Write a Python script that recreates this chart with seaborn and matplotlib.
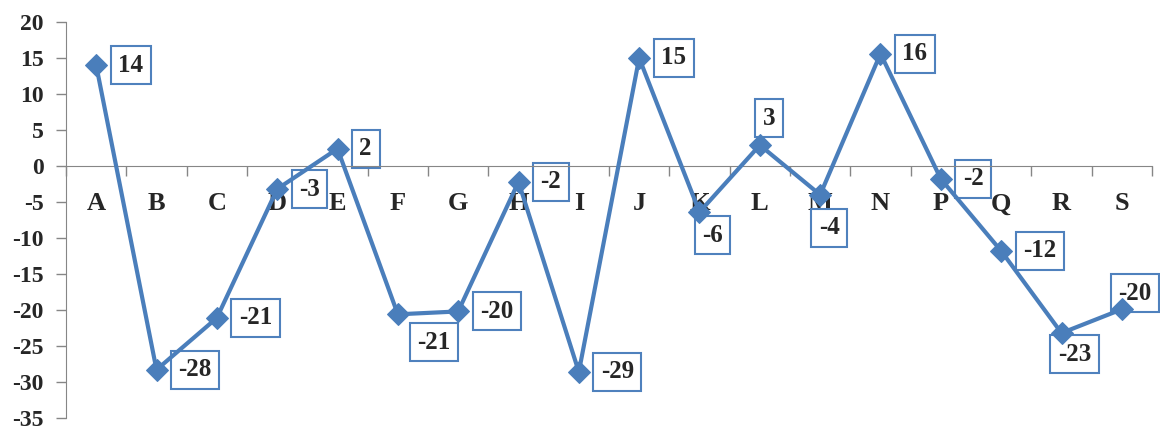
import matplotlib
matplotlib.use("Agg")
import matplotlib.pyplot as plt
import seaborn as sns
import numpy as np
import pandas as pd

categories = ["A", "B", "C", "D", "E", "F", "G", "H", "I", "J",
              "K", "L", "M", "N", "P", "Q", "R", "S"]
values = [14.0, -28.3, -21.1, -3.2, 2.4, -20.6, -20.2, -2.2, -28.6, 15.0,
          -6.4, 2.9, -4.0, 15.6, -1.8, -11.8, -23.2, -19.9]
labels = [f"{round(v):d}" for v in values]

# labels that are not placed to the right of the point (offset in pixels)
label_offsets = {"F": (36, -28), "K": (13, -23), "L": (9, 27),
                 "M": (9, -33), "R": (13, -21), "S": (13, 16)}

df = pd.DataFrame({"cat": categories, "val": values})

sns.set_style("white")
plt.rcParams["font.family"] = ["Liberation Serif", "DejaVu Serif"]
plt.rcParams["font.weight"] = "bold"
plt.rcParams["axes.unicode_minus"] = False

blue = "#4A7EBB"
grey = "#868686"

fig = plt.figure(figsize=(11.6, 4.26), dpi=100)
ax = fig.add_axes([66 / 1160, 1 - 418 / 426, (1152 - 66) / 1160, 396 / 426])

sns.lineplot(data=df, x="cat", y="val", ax=ax, sort=False, color=blue,
             linewidth=3, marker="D", markersize=11, markeredgecolor=blue,
             zorder=3)

n = len(categories)
ax.set_xlim(-0.5, n - 0.5)
ax.set_ylim(-35, 20)
ax.set_yticks(np.arange(-35, 21, 5))
ax.set_xlabel("")
ax.set_ylabel("")

for s in ["top", "right"]:
    ax.spines[s].set_visible(False)
ax.spines["bottom"].set_position(("data", 0))
ax.spines["bottom"].set_color(grey)
ax.spines["left"].set_color(grey)

ax.set_xticks(range(n))
ax.set_xticklabels(categories, fontsize=19, fontweight="bold")
ax.tick_params(axis="x", which="major", bottom=True, length=0, pad=19)
ax.set_xticks(np.arange(-0.5, n, 1), minor=True)
ax.tick_params(axis="x", which="minor", bottom=True, length=7, width=1,
               color=grey, direction="out")
ax.tick_params(axis="y", left=True, length=7, width=1, color=grey,
               direction="out", pad=9, labelsize=17)
for t in ax.get_yticklabels():
    t.set_fontweight("bold")

for i, (c, v, lab) in enumerate(zip(categories, values, labels)):
    box = dict(boxstyle="square,pad=0.3", facecolor="white",
               edgecolor="#4F81BD", linewidth=1.5)
    if c in label_offsets:
        dx, dy = label_offsets[c]
        ax.annotate(lab, (i, v), xytext=(dx, dy), textcoords="offset pixels",
                    ha="center", va="center", fontsize=18, fontweight="bold",
                    bbox=box, zorder=2.5)
    else:
        ax.annotate(lab, (i, v), xytext=(22, 0), textcoords="offset pixels",
                    ha="left", va="center", fontsize=18, fontweight="bold",
                    bbox=box, zorder=2.5)

fig.savefig("out.png", dpi=100)
